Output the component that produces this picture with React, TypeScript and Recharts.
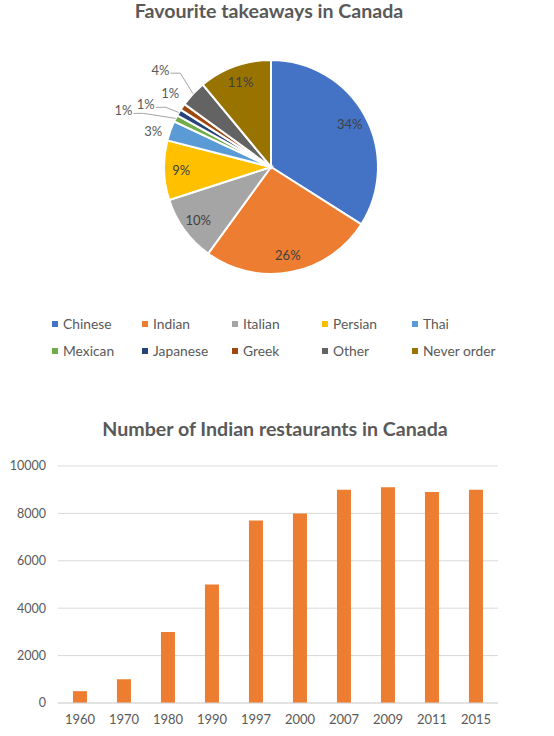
import React from 'react';
import { Bar, BarChart, CartesianGrid, Cell, Pie, PieChart, XAxis, YAxis } from 'recharts';

const takeawayNames = ['Chinese', 'Indian', 'Italian', 'Persian', 'Thai', 'Mexican', 'Japanese', 'Greek', 'Other', 'Never order'];
const takeawayShares = [34, 26, 10, 9, 3, 1, 1, 1, 4, 11];
const takeawayColors = ['#4472C4', '#ED7D31', '#A5A5A5', '#FFC000', '#5B9BD5', '#70AD47', '#264478', '#9E480E', '#636363', '#997300'];

const years = ['1960', '1970', '1980', '1990', '1997', '2000', '2007', '2009', '2011', '2015'];
const restaurants = [500, 1000, 3000, 5000, 7700, 8000, 9000, 9100, 8900, 9000];
const yTicks = [0, 2000, 4000, 6000, 8000, 10000];

const FONT = 'Lato, "Open Sans", sans-serif';
const TEXT = '#595959';
const RAD = Math.PI / 180;

// outside labels for the thin slices: extra radius, angle nudge (deg, clockwise), leader line
const OUTSIDE: Record<string, { r: number; nudge: number; line: boolean }> = {
  Thai: { r: 16, nudge: -3, line: false },
  Mexican: { r: 51, nudge: -6, line: true },
  Japanese: { r: 33, nudge: -4, line: true },
  Greek: { r: 18, nudge: 2, line: false },
  Other: { r: 40, nudge: -2, line: true },
};

const pieData = takeawayNames.map((name, i) => ({ name, value: takeawayShares[i] }));
const barData = years.map((year, i) => ({ year, count: restaurants[i] }));

// clockwise-from-top angle to screen point
const at = (cx: number, cy: number, r: number, cw: number) => ({
  x: cx + r * Math.sin(cw * RAD),
  y: cy - r * Math.cos(cw * RAD),
});

const renderLabel = (p: any) => {
  const { cx, cy, midAngle, outerRadius, name, value } = p;
  const cw = 90 - midAngle;
  const text = `${value}%`;
  const out = OUTSIDE[name];
  if (!out) {
    const pt = at(cx, cy, outerRadius * 0.84, cw);
    return (
      <text x={pt.x} y={pt.y} fill="#404040" fontSize={13} fontFamily={FONT} textAnchor="middle" dominantBaseline="central">
        {text}
      </text>
    );
  }
  const pt = at(cx, cy, outerRadius + out.r, cw + out.nudge);
  const edge = at(cx, cy, outerRadius, cw);
  const startX = pt.x + 10;
  return (
    <g>
      {out.line && (
        <polyline
          points={`${startX},${pt.y + 3} ${Math.min(edge.x - 4, startX + 10)},${pt.y + 3} ${edge.x},${edge.y}`}
          fill="none"
          stroke="#a6a6a6"
          strokeWidth={1}
        />
      )}
      <text x={pt.x} y={pt.y} fill={TEXT} fontSize={13} fontFamily={FONT} textAnchor="middle" dominantBaseline="central">
        {text}
      </text>
    </g>
  );
};

const titleStyle: React.CSSProperties = {
  position: 'absolute',
  width: 554,
  textAlign: 'center',
  fontFamily: FONT,
  fontWeight: 700,
  fontSize: 19.6,
  color: TEXT,
  lineHeight: '22px',
};

export default function App() {
  return (
    <div style={{ position: 'absolute', left: 0, top: 0, width: 554, height: 736, background: '#fff', fontFamily: FONT }}>
      <div style={{ ...titleStyle, top: 0, left: -8 }}>Favourite takeaways in Canada</div>

      <div style={{ position: 'absolute', left: 0, top: 0 }}>
        <PieChart width={554} height={300}>
          <Pie
            data={pieData}
            dataKey="value"
            nameKey="name"
            cx={266}
            cy={162}
            outerRadius={107}
            startAngle={90}
            endAngle={-270}
            stroke="#ffffff"
            strokeWidth={2}
            label={renderLabel}
            labelLine={false}
            isAnimationActive={false}
          >
            {pieData.map((d, i) => (
              <Cell key={d.name} fill={takeawayColors[i]} />
            ))}
          </Pie>
        </PieChart>
      </div>

      {takeawayNames.map((name, i) => (
        <div
          key={name}
          style={{
            position: 'absolute',
            left: 52 + (i % 5) * 90,
            top: 315 + Math.floor(i / 5) * 27,
            display: 'flex',
            alignItems: 'center',
            fontSize: 13.8,
            color: TEXT,
            lineHeight: '18px',
            whiteSpace: 'nowrap',
          }}
        >
          <span style={{ width: 6, height: 6, background: takeawayColors[i], marginRight: 5, display: 'inline-block' }} />
          {name}
        </div>
      ))}

      <div style={{ ...titleStyle, top: 418, left: -2 }}>Number of Indian restaurants in Canada</div>

      <div style={{ position: 'absolute', left: 0, top: 450 }}>
        <BarChart width={554} height={286} data={barData} margin={{ top: 16, right: 56, bottom: 3, left: 0 }} barCategoryGap="34%">
          <CartesianGrid vertical={false} stroke="#d9d9d9" />
          <XAxis
            dataKey="year"
            axisLine={{ stroke: '#d9d9d9' }}
            tickLine={false}
            tick={{ fill: TEXT, fontSize: 13, fontFamily: FONT }}
            height={30}
            tickMargin={6}
          />
          <YAxis
            domain={[0, 10000]}
            ticks={yTicks}
            axisLine={false}
            tickLine={false}
            width={58}
            tickMargin={6}
            tick={{ fill: TEXT, fontSize: 12.5, fontFamily: FONT }}
          />
          <Bar dataKey="count" fill="#ED7D31" isAnimationActive={false} />
        </BarChart>
      </div>
    </div>
  );
}
